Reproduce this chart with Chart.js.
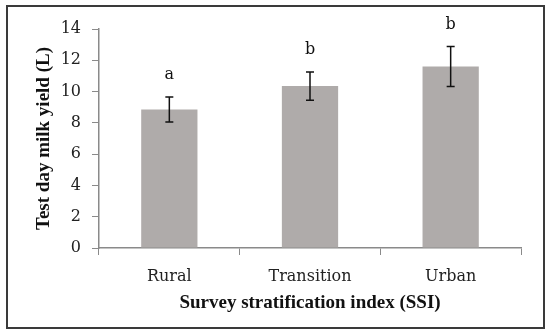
<!DOCTYPE html>
<html lang="en">
<head>
  <meta charset="UTF-8">
  <title>Test day milk yield by SSI</title>
  <script src="https://cdn.jsdelivr.net/npm/chart.js"></script>
  <style>
    html, body {
      margin: 0;
      padding: 0;
      background: #fff;
    }
    #wrap {
      position: relative;
      width: 550px;
      height: 334px;
    }
    #frame {
      position: absolute;
      left: 6px;
      top: 5px;
      width: 535px;
      height: 320px;
      border: 2px solid #3a3a3a;
      pointer-events: none;
    }
  </style>
</head>
<body>
  <div id="wrap">
    <canvas id="milkChart" width="550" height="334"></canvas>
    <div id="frame"></div>
  </div>

  <script>
    const categories = ['Rural', 'Transition', 'Urban'];
    const meanYield = [8.85, 10.35, 11.6];
    const errYield = [0.8, 0.9, 1.28];
    const sigLetters = ['a', 'b', 'b'];

    const axisGray = '#8a8a8a';
    const tickFont = { family: 'DejaVu Serif', size: 16 };
    const titleFont = { family: 'Liberation Serif', size: 19, weight: 'bold' };

    // error bars + significance letters, placed through the y scale
    const errorBars = {
      id: 'errorBars',
      afterDatasetsDraw(chart) {
        const ctx = chart.ctx;
        const y = chart.scales.y;
        const meta = chart.getDatasetMeta(0);
        ctx.save();
        meta.data.forEach((bar, i) => {
          const top = y.getPixelForValue(meanYield[i] + errYield[i]);
          const bot = y.getPixelForValue(meanYield[i] - errYield[i]);
          const x = bar.x;
          ctx.strokeStyle = '#111';
          ctx.lineWidth = 1.5;
          ctx.beginPath();
          ctx.moveTo(x, top); ctx.lineTo(x, bot);
          ctx.moveTo(x - 4, top); ctx.lineTo(x + 4, top);
          ctx.moveTo(x - 4, bot); ctx.lineTo(x + 4, bot);
          ctx.stroke();

          ctx.fillStyle = '#111';
          ctx.font = '16px "DejaVu Serif"';
          ctx.textAlign = 'center';
          ctx.textBaseline = 'middle';
          ctx.fillText(sigLetters[i], x, top - 22);
        });
        ctx.restore();
      }
    };

    const ctx = document.getElementById('milkChart').getContext('2d');
    new Chart(ctx, {
      type: 'bar',
      data: {
        labels: categories,
        datasets: [{
          data: meanYield,
          backgroundColor: '#afabaa',
          borderWidth: 0,
          barPercentage: 0.4,
          categoryPercentage: 1
        }]
      },
      options: {
        responsive: false,
        animation: false,
        layout: { padding: { left: 0, right: 29, top: 29, bottom: 0 } },
        plugins: {
          legend: { display: false },
          tooltip: { enabled: false }
        },
        scales: {
          x: {
            afterFit(scale) { scale.height = 86; },
            grid: {
              offset: true,
              drawOnChartArea: false,
              drawTicks: true,
              tickLength: 7,
              color: axisGray
            },
            border: { color: axisGray, width: 1.5 },
            ticks: { color: '#222', font: tickFont, padding: 12 },
            title: {
              display: true,
              text: 'Survey stratification index (SSI)',
              color: '#111',
              font: titleFont,
              padding: { top: 0, bottom: 20 }
            }
          },
          y: {
            min: 0,
            max: 14,
            afterFit(scale) { scale.width = 99; },
            grid: {
              drawOnChartArea: false,
              drawTicks: true,
              tickLength: 7,
              color: axisGray
            },
            border: { color: axisGray, width: 1.5 },
            ticks: { stepSize: 2, color: '#222', font: tickFont, padding: 11 },
            title: {
              display: true,
              text: 'Test day milk yield (L)',
              color: '#111',
              font: titleFont,
              padding: { top: 33, bottom: 0 }
            }
          }
        }
      },
      plugins: [errorBars]
    });
  </script>
</body>
</html>
